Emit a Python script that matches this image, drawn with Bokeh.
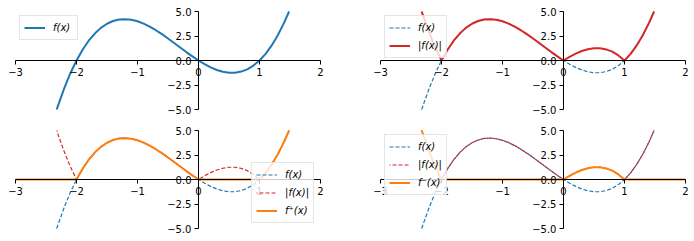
from bokeh.plotting import figure
from bokeh.models import FixedTicker, Legend, LegendItem, Range1d
from bokeh.layouts import column, row
from bokeh.embed import file_html
from bokeh.resources import INLINE

# ---- data (curve enters/leaves the view at y = -5 / 5) ----
x_f = [-2.325, -2.3, -2.2, -2.1, -2.0, -1.9, -1.8, -1.7, -1.6, -1.5,
       -1.4, -1.3, -1.2, -1.1, -1.0, -0.9, -0.8, -0.7, -0.6, -0.5,
       -0.4, -0.3, -0.2, -0.1, 0.0, 0.1, 0.2, 0.3, 0.4, 0.5,
       0.6, 0.7, 0.8, 0.9, 1.0, 1.1, 1.2, 1.3, 1.4, 1.485]
y_f = [-5.0, -4.55, -2.82, -1.30, 0.0, 1.10, 2.02, 2.75, 3.33, 3.75,
       4.03, 4.19, 4.22, 4.16, 4.0, 3.76, 3.46, 3.09, 2.69, 2.25,
       1.79, 1.33, 0.86, 0.42, 0.0, -0.38, -0.70, -0.97, -1.15, -1.25,
       -1.25, -1.13, -0.90, -0.52, 0.0, 0.68, 1.54, 2.57, 3.81, 5.0]

# |f(x)|
y_abs = [abs(v) for v in y_f]
# f+(x): zero from x = -3 up to the first root, then the positive part
x_pos = [-3.0] + [x for x in x_f if x >= -2.0]
y_pos = [0.0] + [max(v, 0.0) for x, v in zip(x_f, y_f) if x >= -2.0]
# f-(x): negative part, zero to the right edge x = 2
x_neg = x_f + [2.0]
y_neg = [max(-v, 0.0) for v in y_f] + [0.0]

x_ticks = [-3, -2, -1, 0, 1, 2]
x_tick_labels = ["\u22123", "\u22122", "\u22121", "0", "1", "2"]
y_ticks = [-5.0, -2.5, 0.0, 2.5, 5.0]
y_tick_labels = ["\u22125.0", "\u22122.5", "0.0", "2.5", "5.0"]
x_lim = (-3.0, 2.0)
y_lim = (-5.0, 5.0)

label_f = "f(x)"
label_abs = "|f(x)|"
label_pos = "f\u207a(x)"
label_neg = "f\u207b(x)"

BLUE = "#1f77b4"
RED = "#d62728"
ORANGE = "#ff7f0e"
FONT = "DejaVu Sans"

# pixel geometry of the data box and the extra room kept around it for tick labels
BOX_W, BOX_H = 305, 98
EXT_L, EXT_R, EXT_T, EXT_B = 8, 5, 8, 6


def make_fig(bl, br, bt, bb):
    ux = (x_lim[1] - x_lim[0]) / BOX_W
    uy = (y_lim[1] - y_lim[0]) / BOX_H
    p = figure(frame_width=BOX_W + EXT_L + EXT_R, frame_height=BOX_H + EXT_T + EXT_B,
               x_range=Range1d(x_lim[0] - EXT_L * ux, x_lim[1] + EXT_R * ux),
               y_range=Range1d(y_lim[0] - EXT_B * uy, y_lim[1] + EXT_T * uy),
               output_backend="svg", toolbar_location=None,
               min_border_left=bl - EXT_L, min_border_right=br - EXT_R,
               min_border_top=bt - EXT_T, min_border_bottom=bb - EXT_B)
    p.outline_line_color = None
    p.xgrid.visible = False
    p.ygrid.visible = False
    p.background_fill_color = "white"
    p.border_fill_color = "white"
    for ax in (p.xaxis[0], p.yaxis[0]):
        ax.axis_line_color = "black"
        ax.axis_line_width = 1
        ax.major_tick_line_color = "black"
        ax.major_tick_line_width = 1
        ax.major_tick_in = 0
        ax.major_tick_out = 4
        ax.minor_tick_line_color = None
        ax.major_label_text_font = FONT
        ax.major_label_text_font_size = "10px"
        ax.major_label_text_color = "black"
        ax.major_label_standoff = 3
    p.xaxis.fixed_location = 0
    p.yaxis.fixed_location = 0
    p.xaxis.bounds = x_lim
    p.yaxis.bounds = y_lim
    p.xaxis.ticker = FixedTicker(ticks=x_ticks)
    p.yaxis.ticker = FixedTicker(ticks=y_ticks)
    p.xaxis.major_label_overrides = dict(zip(x_ticks, x_tick_labels))
    p.yaxis.major_label_overrides = dict(zip(y_ticks, y_tick_labels))
    return p


def add_legend(p, items, location, margin):
    lg = Legend(items=[LegendItem(label=l, renderers=[r]) for l, r in items],
                location=location, margin=margin, padding=4, spacing=3,
                glyph_width=21, glyph_height=15, label_height=15,
                label_standoff=8,
                label_text_font=FONT, label_text_font_size="10px",
                label_text_font_style="italic", label_text_color="black",
                border_line_color="#cccccc", border_line_width=1,
                background_fill_color="white", background_fill_alpha=0.8)
    p.add_layout(lg)


def solid(p, x, y, color):
    return p.line(x, y, line_color=color, line_width=2, line_join="round")


def dashed(p, x, y, color, offset=0):
    return p.line(x, y, line_color=color, line_width=1.2, line_dash="4 2",
                  line_dash_offset=offset)


# top-left
p1 = make_fig(15, 5, 11, 6)
r = solid(p1, x_f, y_f, BLUE)
add_legend(p1, [(label_f, r)], "top_left", 12)

# top-right
p2 = make_fig(55, 9, 11, 6)
r1 = dashed(p2, x_f, y_f, BLUE)
r2 = solid(p2, x_f, y_abs, RED)
add_legend(p2, [(label_f, r1), (label_abs, r2)], "top_left", 12)

# bottom-left
p3 = make_fig(15, 5, 15, 13)
r1 = dashed(p3, x_f, y_f, BLUE)
r2 = dashed(p3, x_f, y_abs, RED, offset=3)
r3 = solid(p3, x_pos, y_pos, ORANGE)
add_legend(p3, [(label_f, r1), (label_abs, r2), (label_pos, r3)], "bottom_right", 11)

# bottom-right
p4 = make_fig(55, 9, 15, 13)
r1 = dashed(p4, x_f, y_f, BLUE)
r2 = dashed(p4, x_f, y_abs, RED, offset=3)
r3 = solid(p4, x_neg, y_neg, ORANGE)
add_legend(p4, [(label_f, r1), (label_abs, r2), (label_neg, r3)], "top_left", 12)

layout = column(row(p1, p2, spacing=0), row(p3, p4, spacing=0), spacing=0)

open("out.html", "w").write(file_html(layout, INLINE))
